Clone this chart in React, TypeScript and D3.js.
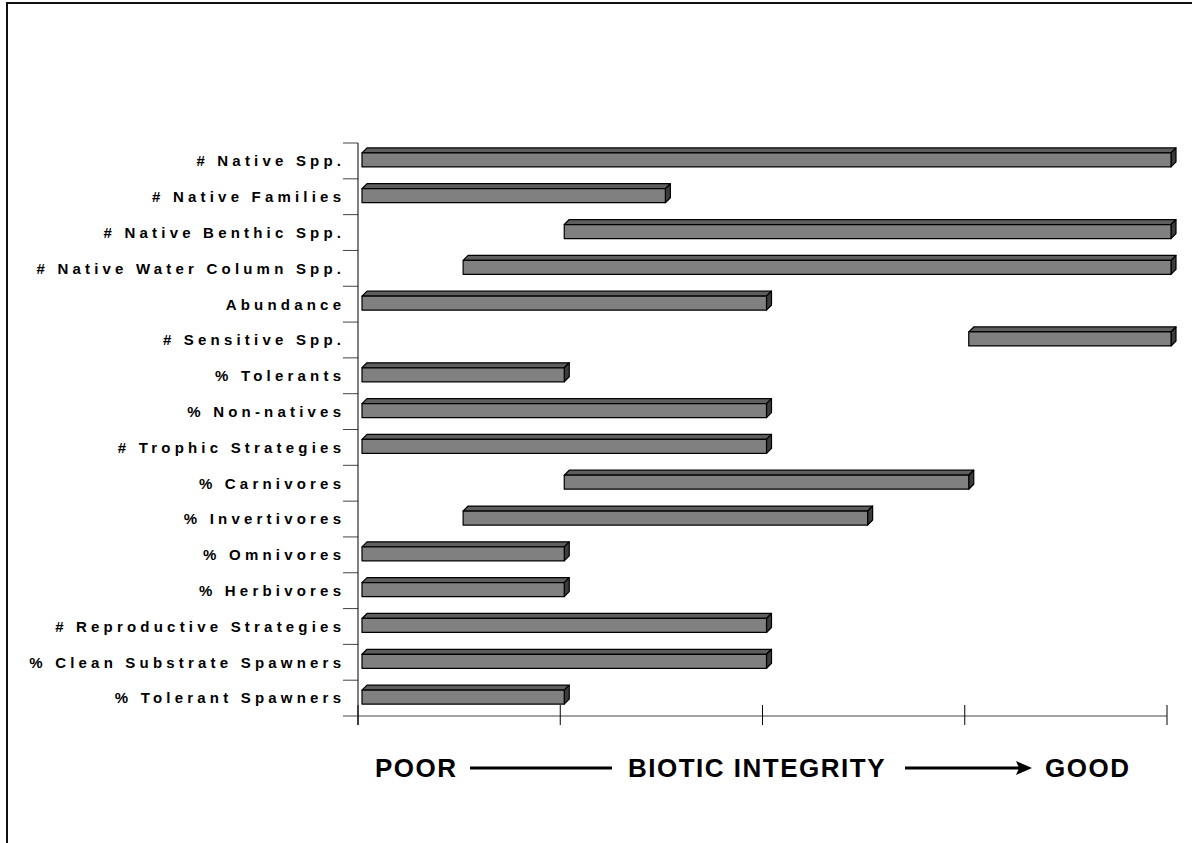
import React from "react";
import * as d3 from "d3";

const categories = [
  "# Native Spp.",
  "# Native Families",
  "# Native Benthic Spp.",
  "# Native Water Column Spp.",
  "Abundance",
  "# Sensitive Spp.",
  "% Tolerants",
  "% Non-natives",
  "# Trophic Strategies",
  "% Carnivores",
  "% Invertivores",
  "% Omnivores",
  "% Herbivores",
  "# Reproductive Strategies",
  "% Clean Substrate Spawners",
  "% Tolerant Spawners",
];
const barStart = [0, 0, 1, 0.5, 0, 3, 0, 0, 0, 1, 0.5, 0, 0, 0, 0, 0];
const barEnd = [4, 1.5, 4, 4, 2, 4, 1, 2, 2, 3, 2.5, 1, 1, 2, 2, 1];
const xTicks = [0, 1, 2, 3, 4];

const W = 1192;
const H = 843;
const plot = { left: 358, right: 1167, top: 143, bottom: 716 };

const App = () => {
  const x = d3.scaleLinear().domain([0, 4]).range([plot.left, plot.right]);
  const y = d3.scaleBand<string>().domain(categories).range([plot.top, plot.bottom]).padding(0);
  const bw = y.bandwidth();
  const d = 5; // 3d depth
  const off = 4;

  const labelFont = "'Liberation Sans', Arial, sans-serif";
  const ls = 4.2;

  return (
    <svg width={W} height={H} style={{ position: "absolute", left: 0, top: 0, background: "#fff" }}>
      <rect x={7} y={3} width={1300} height={1000} fill="none" stroke="#111" strokeWidth={2} />

      {/* category labels + ticks */}
      {categories.map((c) => {
        const cy = (y(c) as number) + bw / 2;
        return (
          <g key={c}>
            <line x1={343} x2={plot.left} y1={y(c) as number} y2={y(c) as number} stroke="#444" strokeWidth={1} />
            <text
              x={341 + ls}
              y={cy}
              dy="0.36em"
              textAnchor="end"
              fontFamily={labelFont}
              fontWeight="bold"
              fontSize={15}
              letterSpacing={ls}
              fill="#000"
            >
              {c}
            </text>
          </g>
        );
      })}

      {/* axes */}
      <line x1={plot.left} x2={plot.left} y1={plot.top} y2={plot.bottom + 9} stroke="#000" strokeWidth={1} />
      <line x1={343} x2={plot.right} y1={plot.bottom} y2={plot.bottom} stroke="#444" strokeWidth={1} />
      {xTicks.map((t) => (
        <line key={t} x1={x(t)} x2={x(t)} y1={plot.bottom - 11} y2={plot.bottom + 9} stroke="#000" strokeWidth={1} />
      ))}

      {/* bars */}
      {categories.map((c, i) => {
        const cy = (y(c) as number) + bw / 2 - 1;
        const x0 = x(barStart[i]) + off;
        const x1 = x(barEnd[i]) + off;
        const yt = cy - 7;
        const yb = cy + 7;
        const top = `M${x0},${yt}L${x0 + d},${yt - d}L${x1 + d},${yt - d}L${x1},${yt}Z`;
        const side = `M${x1},${yt}L${x1 + d},${yt - d}L${x1 + d},${yb - d}L${x1},${yb}Z`;
        return (
          <g key={c} stroke="#000" strokeWidth={1.2} strokeLinejoin="round">
            <path d={top} fill="#5e5e5e" />
            <path d={side} fill="#3c3c3c" />
            <rect x={x0} y={yt} width={x1 - x0} height={yb - yt} fill="#808080" />
          </g>
        );
      })}

      {/* bottom caption */}
      <g fontFamily={labelFont} fontWeight="bold" fontSize={26} fill="#000" letterSpacing={1.5}>
        <text x={375} y={777}>POOR</text>
        <line x1={470} x2={612} y1={768} y2={768} stroke="#000" strokeWidth={3} />
        <text x={628} y={777}>BIOTIC INTEGRITY</text>
        <line x1={905} x2={1022} y1={768} y2={768} stroke="#000" strokeWidth={3} />
        <path d="M1032,768L1016,761L1019,768L1016,775Z" fill="#000" />
        <text x={1045} y={777}>GOOD</text>
      </g>
    </svg>
  );
};

export default App;
